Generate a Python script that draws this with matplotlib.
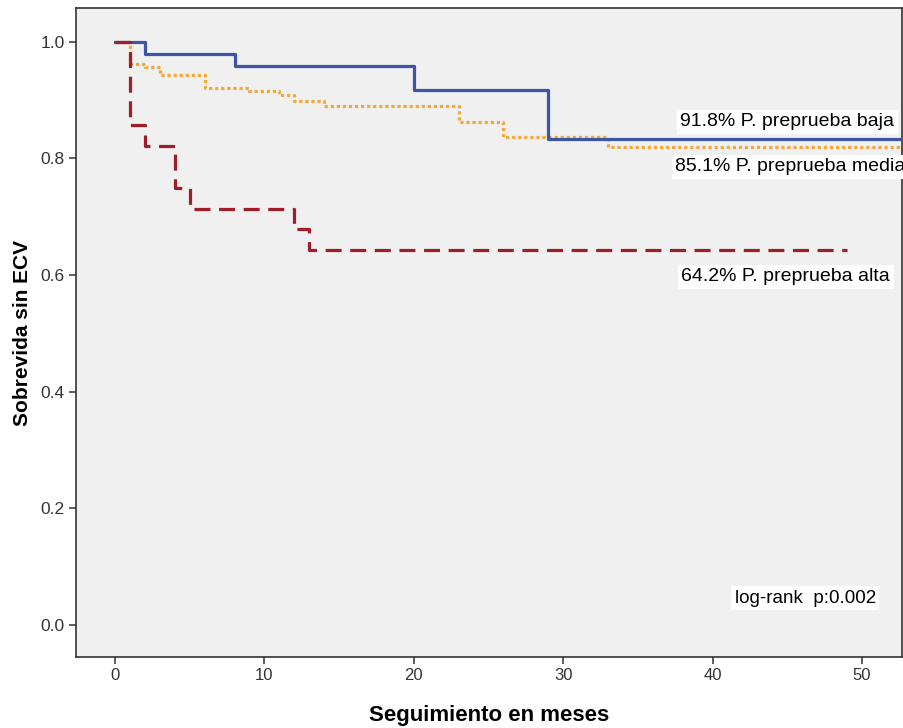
import matplotlib
matplotlib.use("Agg")
import matplotlib.pyplot as plt
from matplotlib import font_manager

# Kaplan-Meier style curves
t_baja = [0, 2, 8, 20, 29, 53]
s_baja = [1.0, 0.979, 0.958, 0.917, 0.833, 0.833]

t_media = [0, 1, 2, 3, 6, 9, 11, 12, 14, 23, 26, 33, 53]
s_media = [1.0, 0.962, 0.956, 0.943, 0.921, 0.915, 0.908, 0.899, 0.890, 0.862, 0.836, 0.820, 0.820]

t_alta = [0, 1, 2, 4, 5, 12, 13, 49]
s_alta = [1.0, 0.857, 0.821, 0.750, 0.714, 0.679, 0.643, 0.643]

labels = ["91.8% P. preprueba baja", "85.1% P. preprueba media", "64.2% P. preprueba alta"]
x_ticks = [0, 10, 20, 30, 40, 50]
y_ticks = [0.0, 0.2, 0.4, 0.6, 0.8, 1.0]

names = {f.name for f in font_manager.fontManager.ttflist}
narrow = "Liberation Sans Narrow" if "Liberation Sans Narrow" in names else "Liberation Sans"
plt.rcParams["font.family"] = ["Liberation Sans", "DejaVu Sans"]

fig = plt.figure(figsize=(9.04, 7.28), dpi=100)
ax = fig.add_axes([0.0841, 0.0975, 0.9137, 0.8915])
ax.set_facecolor("#f0f0f0")

ax.step(t_baja, s_baja, where="post", color="#3d55a5", lw=2.3, zorder=3)
ax.step(t_media, s_media, where="post", color="#f2a83a", lw=2.3,
        linestyle=(0, (1, 0.9)), zorder=2)
ax.step(t_alta, s_alta, where="post", color="#a01e2a", lw=2.3,
        linestyle=(0, (5, 2.7)), zorder=4)

ax.set_xlim(-2.61, 52.68)
ax.set_ylim(-0.055, 1.058)
ax.set_xticks(x_ticks)
ax.set_yticks(y_ticks)
ax.set_yticklabels([f"{v:.1f}" for v in y_ticks], fontsize=12.5, color="#333333")
ax.set_xticklabels([str(v) for v in x_ticks], fontsize=12, family=narrow, color="#333333")
ax.tick_params(length=5, width=1.1, color="#333333", pad=3)
ax.tick_params(axis="x", pad=3)
for s in ax.spines.values():
    s.set_color("#333333")
    s.set_linewidth(1.2)

ax.set_xlabel("Seguimiento en meses", fontsize=16, fontweight="bold", family=narrow, labelpad=16)
ax.set_ylabel("Sobrevida sin ECV", fontsize=15, fontweight="bold", labelpad=6)

box = dict(facecolor="white", edgecolor="none", pad=2.5)
ax.text(45.0, 0.863, labels[0], fontsize=14, ha="center", va="center", bbox=box, zorder=5)
ax.text(45.2, 0.786, labels[1], fontsize=14, ha="center", va="center", bbox=box, zorder=5)
ax.text(44.9, 0.597, labels[2], fontsize=14, ha="center", va="center", bbox=box, zorder=5)
ax.text(46.2, 0.046, "log-rank  p:0.002", fontsize=13.5, ha="center", va="center", bbox=box, zorder=5)

fig.savefig("out.png", dpi=100)
